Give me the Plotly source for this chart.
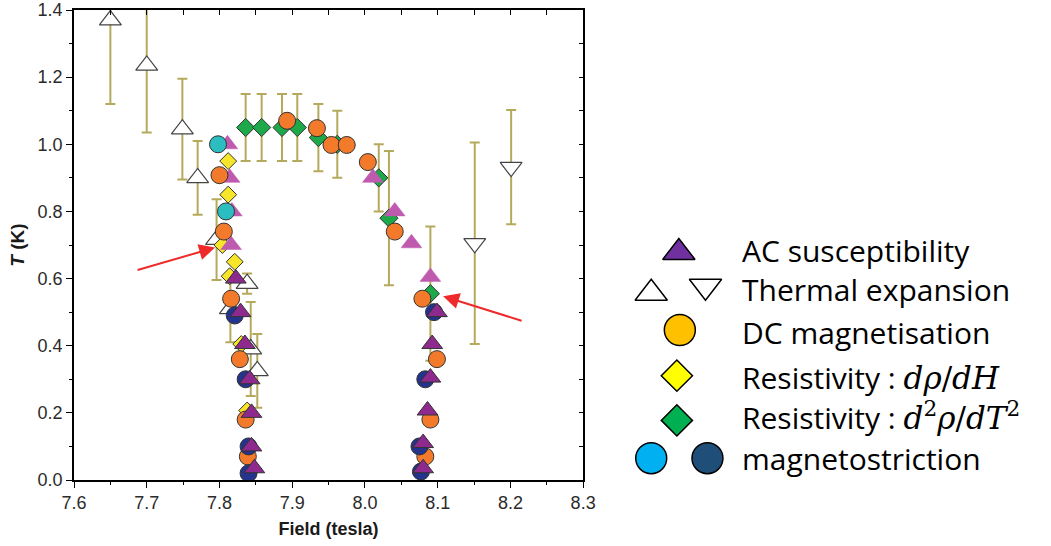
import plotly.graph_objects as go

# ---------------- data ----------------
# Thermal expansion (up triangles, open) with error bars
thermal_up_field = [7.65, 7.70, 7.749, 7.770, 7.796, 7.838, 7.815, 7.843, 7.852]
thermal_up_T     = [1.37, 1.235, 1.045, 0.90, 0.716, 0.585, 0.51, 0.39, 0.325]
thermal_up_err   = [0.25, 0.20, 0.15, 0.11, 0.12, 0.03, 0.10, 0.14, 0.11]

# Thermal expansion (down triangles, open) with error bars
thermal_dn_field = [8.151, 8.201]
thermal_dn_T     = [0.705, 0.932]
thermal_dn_err   = [0.30, 0.17]

# Resistivity d2rho/dT2 (green diamonds) with error bars
res2_field = [7.836, 7.858, 7.886, 7.907, 7.936, 7.962, 8.019, 8.033, 8.090]
res2_T     = [1.05, 1.05, 1.05, 1.05, 1.02, 1.00, 0.90, 0.78, 0.555]
res2_err   = [0.10, 0.10, 0.10, 0.10, 0.10, 0.10, 0.10, 0.20, 0.20]

# Resistivity drho/dH (yellow diamonds)
res1_field = [7.812, 7.812, 7.804, 7.821, 7.814, 7.830, 7.838]
res1_T     = [0.95, 0.85, 0.70, 0.65, 0.607, 0.405, 0.207]

# AC susceptibility, lighter points (pink triangles)
acl_field = [7.811, 7.814, 7.817, 7.816, 8.011, 8.041, 8.064, 8.090]
acl_T     = [1.00, 0.90, 0.80, 0.70, 0.90, 0.80, 0.705, 0.605]

# magnetostriction, light (cyan circles)
msl_field = [7.798, 7.809]
msl_T     = [1.00, 0.80]

# DC magnetisation (orange circles)
dc_field = [7.800, 7.806, 7.816, 7.828, 7.836, 7.839,
            7.893, 7.934, 7.954, 7.975, 8.004, 8.041,
            8.079, 8.099, 8.090, 8.083]
dc_T     = [0.908, 0.74, 0.54, 0.36, 0.18, 0.07,
            1.07, 1.048, 0.998, 0.998, 0.947, 0.74,
            0.54, 0.36, 0.18, 0.07]

# magnetostriction, dark (navy circles)
msd_field = [7.821, 7.836, 7.840, 7.840, 8.095, 8.083, 8.075, 8.077]
msd_T     = [0.49, 0.30, 0.10, 0.02, 0.50, 0.30, 0.10, 0.025]

# AC susceptibility (dark purple triangles)
ac_field = [7.8225, 7.829, 7.835, 7.8415, 7.844, 7.844, 7.848,
            8.099, 8.0925, 8.090, 8.086, 8.080, 8.080]
ac_T     = [0.60, 0.50, 0.405, 0.30, 0.20, 0.10, 0.035,
            0.50, 0.405, 0.305, 0.207, 0.11, 0.035]

x_ticks = [7.6, 7.7, 7.8, 7.9, 8.0, 8.1, 8.2, 8.3]
y_ticks = [0.0, 0.2, 0.4, 0.6, 0.8, 1.0, 1.2, 1.4]

# custom legend (pixel-space helper axis)
leg_labels = [
    "AC susceptibility",
    "Thermal expansion",
    "DC magnetisation",
    "Resistivity : <span style='font-family:DejaVu Serif;font-size:31px'><i>dρ</i>/<i>dH</i></span>",
    "Resistivity : <span style='font-family:DejaVu Serif;font-size:31px'><i>d</i><sup>2</sup><i>ρ</i>/<i>dT</i><sup>2</sup></span>",
    "magnetostriction",
]
leg_label_y = [249, 288, 332, 377, 417, 458]
leg_sym_x      = [687, 659, 714, 688, 685, 685, 659, 716]
leg_sym_y      = [251, 292, 285, 329, 375, 420, 458, 458]
leg_sym_symbol = ["triangle-up", "triangle-up", "triangle-down", "circle",
                  "diamond", "diamond", "circle", "circle"]
leg_sym_color  = ["#7030A0", "white", "white", "#FFC000",
                  "#FFFF00", "#00B050", "#00B0F0", "#1F4E79"]
leg_sym_size   = [28, 28, 28, 31, 24, 24, 31, 31]

# ---------------- styling ----------------
ERR_COLOR = "#B5AA5C"
EDGE = "#333333"
W, H = 1051, 546
ML, MB, MT = 74, 66, 7
PLOT_W = 590 - ML
full_w = W - ML
x_dom = [0, PLOT_W / full_w]

fig = go.Figure()

def err_trace(x, y, e):
    fig.add_trace(go.Scatter(
        x=x, y=y, mode="markers",
        marker=dict(size=1, color="rgba(0,0,0,0)"),
        error_y=dict(type="data", array=e, color=ERR_COLOR, thickness=2, width=5),
        hoverinfo="skip", showlegend=False, xaxis="x", yaxis="y"))

err_trace(thermal_up_field, thermal_up_T, thermal_up_err)
err_trace(thermal_dn_field, thermal_dn_T, thermal_dn_err)
err_trace(res2_field, res2_T, res2_err)

def pts(x, y, symbol, color, size, lw=1, lc=EDGE):
    fig.add_trace(go.Scatter(
        x=x, y=y, mode="markers",
        marker=dict(symbol=symbol, color=color, size=size, opacity=1,
                    line=dict(color=lc, width=lw)),
        showlegend=False, xaxis="x", yaxis="y"))

pts(thermal_up_field, thermal_up_T, "triangle-up", "white", 19, 1.2, "#444")
pts(thermal_dn_field, thermal_dn_T, "triangle-down", "white", 19, 1.2, "#444")
pts(res2_field, res2_T, "diamond", "#1DA84A", 14)
pts(res1_field, res1_T, "diamond", "#F7E52A", 13)
pts(acl_field, acl_T, "triangle-up", "#BF5BAE", 18, 0.5, "#BF5BAE")
pts(msl_field, msl_T, "circle", "#2BBDBF", 17)
pts(dc_field, dc_T, "circle", "#F37A2B", 17)
pts(msd_field, msd_T, "circle", "#24338C", 17)
pts(ac_field, ac_T, "triangle-up", "#8E2A8E", 18)

# dummy trace to activate mirror axes (top / right)
fig.add_trace(go.Scatter(x=[], y=[], xaxis="x2", yaxis="y2", showlegend=False))

# legend symbols
fig.add_trace(go.Scatter(
    x=leg_sym_x, y=leg_sym_y, mode="markers", xaxis="x3", yaxis="y3",
    marker=dict(symbol=leg_sym_symbol, color=leg_sym_color, size=leg_sym_size,
                opacity=1, line=dict(color="black", width=1.5)),
    showlegend=False, hoverinfo="skip"))

tick_font = dict(family="Liberation Sans, Arial", size=18, color="#2b2b2b")

fig.update_layout(
    width=W, height=H,
    margin=dict(l=ML, r=0, t=MT, b=MB),
    paper_bgcolor="white", plot_bgcolor="white",
    showlegend=False,
    xaxis=dict(domain=x_dom, range=[7.6, 8.3], tickvals=x_ticks,
               ticktext=[f"{v:.1f}" for v in x_ticks],
               ticks="outside", ticklen=6, tickwidth=1.3, tickcolor="black",
               minor=dict(dtick=0.05, ticks="outside", ticklen=3, tickwidth=1.3, tickcolor="black"),
               showline=True, linecolor="black", linewidth=1.5,
               showgrid=False, zeroline=False, tickfont=tick_font,
               ticklabeloverflow="allow",
               title=dict(text="<b>Field (tesla)</b>", standoff=10,
                          font=dict(family="Liberation Sans, Arial", size=18, color="#1a1a1a")),
               anchor="y"),
    yaxis=dict(domain=[0, 1], range=[0, 1.4], tickvals=y_ticks,
               ticktext=[f"{v:.1f}" for v in y_ticks],
               ticks="outside", ticklen=6, tickwidth=1.3, tickcolor="black",
               minor=dict(dtick=0.1, ticks="outside", ticklen=3, tickwidth=1.3, tickcolor="black"),
               showline=True, linecolor="black", linewidth=1.5,
               showgrid=False, zeroline=False, tickfont=tick_font,
               ticklabeloverflow="allow",
               title=dict(text="<b><i>T</i> (K)</b>", standoff=8,
                          font=dict(family="Liberation Sans, Arial", size=19, color="#1a1a1a")),
               anchor="x"),
    xaxis2=dict(domain=x_dom, range=[7.6, 8.3], overlaying="x", side="top", anchor="y2",
                dtick=0.05, tick0=7.6, ticks="inside", ticklen=5, tickwidth=1.3, tickcolor="black",
                showticklabels=False, showline=True, linecolor="black", linewidth=1.5,
                showgrid=False, zeroline=False),
    yaxis2=dict(domain=[0, 1], range=[0, 1.4], overlaying="y", side="right", anchor="x2",
                dtick=0.1, tick0=0, ticks="inside", ticklen=4, tickwidth=1.3, tickcolor="black",
                showticklabels=False, showline=True, linecolor="black", linewidth=1.5,
                showgrid=False, zeroline=False),
    xaxis3=dict(domain=[(620 - ML) / full_w, 1], range=[620, W], visible=False,
                anchor="y3", fixedrange=True),
    yaxis3=dict(domain=[0, 1], range=[H - MB, MT], visible=False,
                anchor="x3", fixedrange=True),
)

# legend labels
for lab, ly in zip(leg_labels, leg_label_y):
    fig.add_annotation(x=749, y=ly, xref="x3", yref="y3", text=lab,
                       showarrow=False, xanchor="left", yanchor="middle",
                       font=dict(family="Open Sans", size=30, color="black"))

# red arrows
fig.add_annotation(x=7.794, y=0.6925, xref="x", yref="y", ax=-79, ay=23,
                   showarrow=True, arrowhead=2, arrowsize=1.6, arrowwidth=2,
                   arrowcolor="#EE2A2A", text="")
fig.add_annotation(x=8.1075, y=0.5475, xref="x", yref="y", ax=80, ay=25,
                   showarrow=True, arrowhead=2, arrowsize=1.6, arrowwidth=2,
                   arrowcolor="#EE2A2A", text="")

fig.write_html("out.html")
